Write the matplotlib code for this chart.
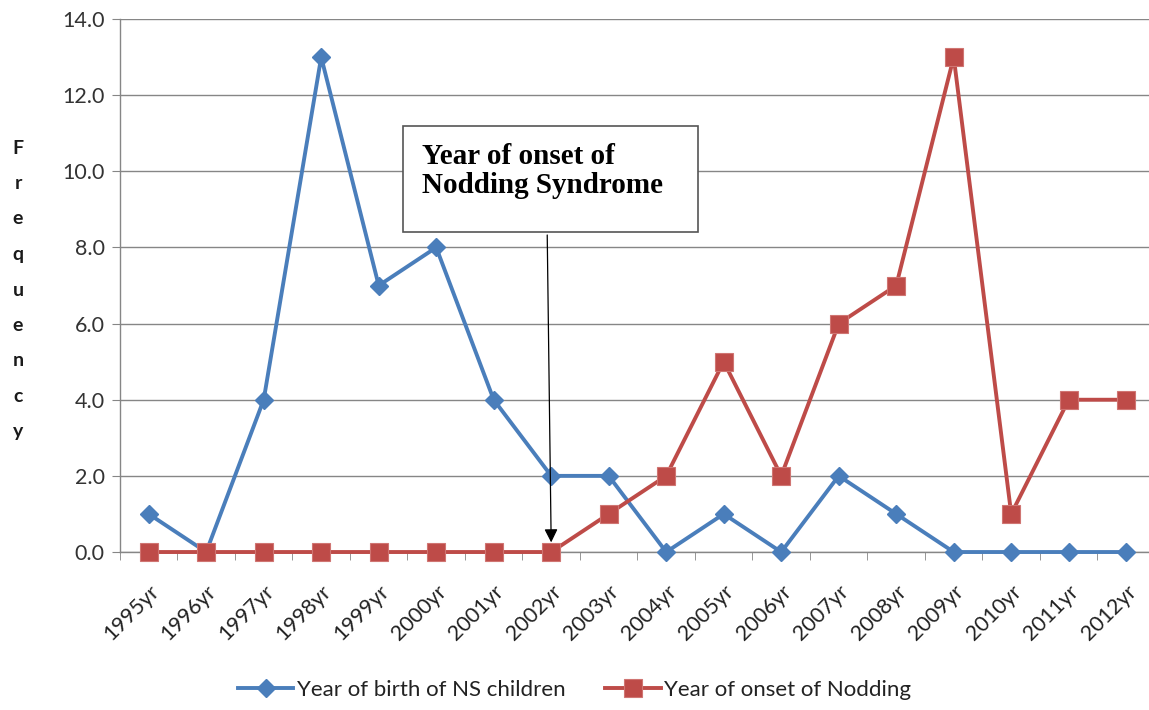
import matplotlib.pyplot as plt
from matplotlib.patches import Rectangle
import numpy as np

years = ["1995yr", "1996yr", "1997yr", "1998yr", "1999yr", "2000yr", "2001yr",
         "2002yr", "2003yr", "2004yr", "2005yr", "2006yr", "2007yr", "2008yr",
         "2009yr", "2010yr", "2011yr", "2012yr"]
birth = [1, 0, 4, 13, 7, 8, 4, 2, 2, 0, 1, 0, 2, 1, 0, 0, 0, 0]
onset = [0, 0, 0, 0, 0, 0, 0, 0, 1, 2, 5, 2, 6, 7, 13, 1, 4, 4]

blue = "#4a7ebb"
red = "#be4b48"
grey = "#868686"

fig = plt.figure(figsize=(11.49, 7.10), dpi=100)
ax = fig.add_axes([0.1044, 0.2225, 0.9008, 0.7507])

x = np.arange(len(years))
ax.plot(x, birth, color=blue, lw=2.8, marker="D", ms=9.5, clip_on=False,
        mfc=blue, mec=blue, label="Year of birth of NS children", zorder=3)
ax.plot(x, onset, color=red, lw=2.8, marker="s", ms=12.5, clip_on=False,
        mfc=red, mec="#d07572", mew=0.8, label="Year of onset of Nodding", zorder=4)

ax.set_xlim(-0.5, len(years) - 0.5)
ax.set_ylim(0, 14)
ax.set_yticks(np.arange(0, 14.1, 2))
ax.set_yticklabels([f"{v:.1f}" for v in np.arange(0, 14.1, 2)])
ax.set_xticks(x)
ax.set_xticklabels(years, rotation=45, ha="right", rotation_mode="anchor")
ax.set_xticks(np.arange(-0.5, len(years), 1), minor=True)
ax.tick_params(axis="x", which="major", length=0, pad=21, labelsize=15.5,
               labelcolor="#222222")
ax.tick_params(axis="x", which="minor", length=6, color=grey, direction="out")
ax.tick_params(axis="y", length=6, color=grey, labelsize=15.5,
               labelcolor="#333333", pad=5)
for lab in ax.get_xticklabels() + ax.get_yticklabels():
    lab.set_fontfamily("Lato")

ax.grid(axis="y", color=grey, lw=1)
ax.set_axisbelow(True)
for s in ["top", "right"]:
    ax.spines[s].set_visible(False)
for s in ["left", "bottom"]:
    ax.spines[s].set_color(grey)
    ax.spines[s].set_linewidth(1)

# stacked letters for the vertical axis title
for i, ch in enumerate("Frequency"):
    fig.text(0.0157, 1 - (148 + i * 35.5) / 710, ch, ha="center", va="center",
             fontsize=14, fontweight="bold", family="Lato", color="#1a1a1a")

# callout box with arrow to 2002
ax.annotate("", xy=(7, 0.18), xytext=(6.93, 8.40),
            arrowprops=dict(arrowstyle="-|>", color="black", lw=0.9,
                            mutation_scale=20), zorder=5)
ax.add_patch(Rectangle((4.42, 8.40), 5.13, 2.79, fc="white", ec="#555555",
                       lw=1.2, zorder=6))
ax.text(4.75, 10.74, "Year of onset of\nNodding Syndrome", ha="left", va="top",
        fontsize=21, fontweight="bold", family="Liberation Serif",
        linespacing=1.1, zorder=7)

leg = fig.legend(loc="center", bbox_to_anchor=(0.5, 0.028), ncol=2,
                 frameon=False, handlelength=2.5,
                 columnspacing=1.8, handletextpad=0.15,
                 prop={"family": "Lato", "size": 16})
for t in leg.get_texts():
    t.set_color("#222222")

fig.savefig("out.png", dpi=100)
